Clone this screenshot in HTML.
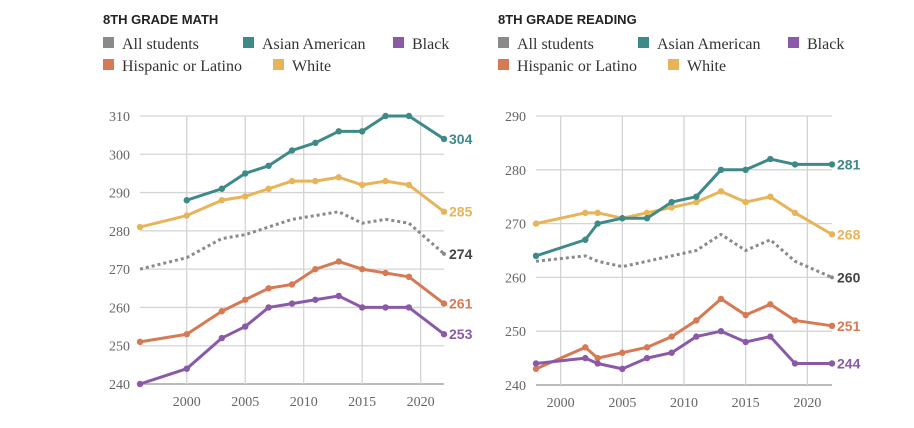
<!DOCTYPE html>
<html><head><meta charset="utf-8"><style>
body{margin:0;background:#fff;width:914px;height:428px;overflow:hidden}
svg{display:block}
.t{font-family:"Liberation Sans Narrow","Liberation Sans",sans-serif;font-weight:bold;font-size:13px;fill:#222}
.lg{font-family:"Liberation Serif",serif;font-size:16px;fill:#333}
.tk{font-family:"Liberation Serif",serif;font-size:14px;fill:#666}
.ep{font-family:"Liberation Sans Narrow","Liberation Sans",sans-serif;font-weight:bold;font-size:14px}
</style></head><body>
<svg id="c" width="914" height="428" xmlns="http://www.w3.org/2000/svg"></svg>
<script>
const colors={all:"#8a8a8a",asian:"#3e8a88",black:"#8a5aa8",hisp:"#d67a55",white:"#e8b45a"};
const labelColors={all:"#444",asian:"#3e8a88",black:"#8a5aa8",hisp:"#d67a55",white:"#e8b45a"};
const mathYears=[1996,2000,2003,2005,2007,2009,2011,2013,2015,2017,2019,2022];
const mathAsian=[null,288,291,295,297,301,303,306,306,310,310,304];
const mathWhite=[281,284,288,289,291,293,293,294,292,293,292,285];
const mathAll=[270,273,278,279,281,283,284,285,282,283,282,274];
const mathHisp=[251,253,259,262,265,266,270,272,270,269,268,261];
const mathBlack=[240,244,252,255,260,261,262,263,260,260,260,253];
const mathTicksY=[240,250,260,270,280,290,300,310];
const readYears=[1998,2002,2003,2005,2007,2009,2011,2013,2015,2017,2019,2022];
const readAsian=[264,267,270,271,271,274,275,280,280,282,281,281];
const readWhite=[270,272,272,271,272,273,274,276,274,275,272,268];
const readAll=[263,264,263,262,263,264,265,268,265,267,263,260];
const readHisp=[243,247,245,246,247,249,252,256,253,255,252,251];
const readBlack=[244,245,244,243,245,246,249,250,248,249,244,244];
const readTicksY=[240,250,260,270,280,290];
const ticksX=[2000,2005,2010,2015,2020];

const svg=document.getElementById('c');
const NS="http://www.w3.org/2000/svg";
function mk(tag,attrs,parent){const e=document.createElementNS(NS,tag);for(const k in attrs)e.setAttribute(k,attrs[k]);(parent||svg).appendChild(e);return e;}

function panel(cfg){
  const g=mk('g',{});
  
  
  const X=y=>cfg.x0+(y-cfg.xmin)*(cfg.x1-cfg.x0)/(cfg.xmax-cfg.xmin);
  const Y=v=>cfg.y0+(v-cfg.ymin)*(cfg.y1-cfg.y0)/(cfg.ymax-cfg.ymin);
  const tt=mk('text',{x:cfg.tx,y:24,class:'t'},g);tt.textContent=cfg.title;
  
  
  const leg=[["all","All students",0,0],["asian","Asian American",140,0],["black","Black",290,0],["hisp","Hispanic or Latino",0,22],["white","White",170,22]];
  leg.forEach(l=>{
    const lg=mk('g',{},g);
    
    
    mk('rect',{x:cfg.tx+l[2],y:37+l[3],width:11,height:11,fill:colors[l[0]]},lg);
    const t=mk('text',{x:cfg.tx+l[2]+19,y:49+l[3],class:'lg'},lg);t.textContent=l[1];
  });
  cfg.ticksY.forEach(v=>{
    const ln=mk('line',{x1:cfg.x0,x2:cfg.x1,y1:Y(v),y2:Y(v),stroke:v===cfg.ymin?'#bbb':'#d4d4d4','stroke-width':v===cfg.ymin?2:1.3},g);
    
    
    const t=mk('text',{x:cfg.x0-10,y:Y(v)+5,class:'tk','text-anchor':'end'},g);t.textContent=v;
    
    
  });
  ticksX.forEach(v=>{
    const ln=mk('line',{x1:X(v),x2:X(v),y1:Y(cfg.ymax),y2:Y(cfg.ymin),stroke:'#d4d4d4','stroke-width':1.3},g);
    
    
    const t=mk('text',{x:X(v),y:Y(cfg.ymin)+22,class:'tk','text-anchor':'middle'},g);t.textContent=v;
    
    
  });
  cfg.series.forEach(s=>{
    const pts=[];cfg.years.forEach((yr,i)=>{if(s.vals[i]!=null)pts.push([X(yr),Y(s.vals[i]),s.vals[i]]);});
    const sg=mk('g',{},g);
    
    
    const p=mk('polyline',{points:pts.map(p=>p[0]+','+p[1]).join(' '),fill:'none',stroke:colors[s.key],'stroke-width':s.key==='all'?3:3,'stroke-dasharray':s.key==='all'?'3 3':'none','stroke-linejoin':'round'},sg);
    if(s.key!=='all')pts.forEach(q=>mk('circle',{cx:q[0],cy:q[1],r:3.2,fill:colors[s.key]},sg));
    else mk('circle',{cx:pts[pts.length-1][0],cy:pts[pts.length-1][1],r:2,fill:colors.all},sg);
    const last=pts[pts.length-1];
    const t=mk('text',{x:last[0]+5,y:last[1]+5,class:'ep',fill:labelColors[s.key]},sg);t.textContent=last[2];
    
    
  });
}
panel({name:'math-chart',title:'8TH GRADE MATH',tx:103,x0:140,x1:444,xmin:1996,xmax:2022,y0:384,y1:116,ymin:240,ymax:310,ticksY:mathTicksY,years:mathYears,
  series:[{key:'all',vals:mathAll},{key:'white',vals:mathWhite},{key:'asian',vals:mathAsian},{key:'hisp',vals:mathHisp},{key:'black',vals:mathBlack}]});
panel({name:'reading-chart',title:'8TH GRADE READING',tx:498,x0:536,x1:832,xmin:1998,xmax:2022,y0:385,y1:116,ymin:240,ymax:290,ticksY:readTicksY,years:readYears,
  series:[{key:'all',vals:readAll},{key:'white',vals:readWhite},{key:'asian',vals:readAsian},{key:'hisp',vals:readHisp},{key:'black',vals:readBlack}]});
</script>
</body></html>
